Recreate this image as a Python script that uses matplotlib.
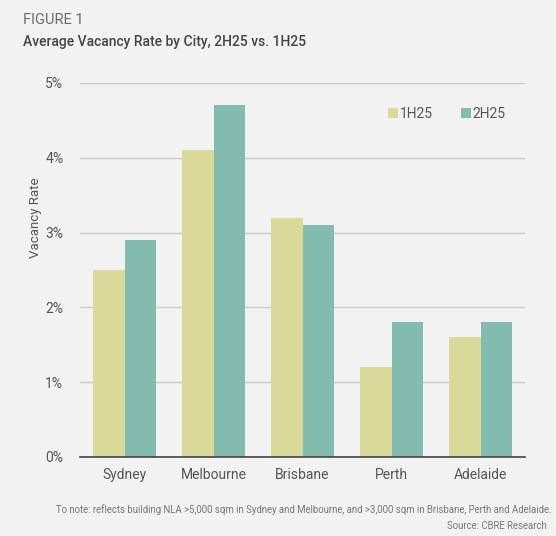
import numpy as np
from matplotlib import pyplot as plt

cities = ["Sydney", "Melbourne", "Brisbane", "Perth", "Adelaide"]
rate_1h25 = [2.5, 4.1, 3.2, 1.2, 1.6]
rate_2h25 = [2.9, 4.7, 3.1, 1.8, 1.8]
y_ticks = [0, 1, 2, 3, 4, 5]
y_labels = ["0%", "1%", "2%", "3%", "4%", "5%"]

bg = "#F2F2F2"
col_1h = "#D9D99A"
col_2h = "#81BCAE"
txt = "#555555"

plt.rcParams['font.family'] = ['Roboto', 'DejaVu Sans']

fig = plt.figure(figsize=(5.56, 5.36), dpi=100, facecolor=bg)
W, H = 556, 536
ax = fig.add_axes([80 / W, 1 - 457 / H, 445 / W, (457 - 83) / H])
ax.set_facecolor(bg)

x = np.arange(len(cities))
w = 0.355
ax.bar(x - w / 2, rate_1h25, width=w, color=col_1h, label="1H25", zorder=2)
ax.bar(x + w / 2, rate_2h25, width=w, color=col_2h, label="2H25", zorder=2)

ax.set_xlim(-0.5, len(cities) - 0.5)
ax.set_ylim(0, 5)
ax.set_yticks(y_ticks)
ax.set_yticklabels(y_labels)
ax.set_xticks(x)
ax.set_xticklabels(cities)
ax.yaxis.grid(True, color="#CACACA", linewidth=1, zorder=0)
ax.tick_params(axis="both", length=0, labelsize=10, colors=txt)
ax.tick_params(axis="y", pad=12)
ax.tick_params(axis="x", pad=8)
for s in ["top", "right", "left"]:
    ax.spines[s].set_visible(False)
ax.spines["bottom"].set_color("#444444")
ax.spines["bottom"].set_linewidth(1.2)
ax.spines["bottom"].set_zorder(3)

leg = ax.legend(loc="upper right", bbox_to_anchor=(0.985, 0.97), ncol=2, frameon=False,
                fontsize=10, handlelength=0.7, handleheight=0.7, handletextpad=0.15,
                columnspacing=2.0)
for t in leg.get_texts():
    t.set_color(txt)

fig.text(35 / W, 1 - 218 / H, "Vacancy Rate", rotation=90, ha="center", va="center",
         fontsize=9.5, color=txt)
fig.text(23 / W, 1 - 20 / H, "FIGURE 1", ha="left", va="center", fontsize=10.5,
         color="#6A6A6A")
fig.text(23 / W, 1 - 42 / H, "Average Vacancy Rate by City, 2H25 vs. 1H25", ha="left",
         va="center", fontsize=10, color="#444444", fontweight="medium")
fig.text(552 / W, 1 - 510 / H,
         "To note: reflects building NLA >5,000 sqm in Sydney and Melbourne, and >3,000 sqm in Brisbane, Perth and Adelaide.",
         ha="right", va="center", fontsize=6.9, color="#777777")
fig.text(547 / W, 1 - 526 / H, "Source: CBRE Research", ha="right", va="center",
         fontsize=6.9, color="#777777")

fig.savefig("out.png", dpi=100, facecolor=bg)
